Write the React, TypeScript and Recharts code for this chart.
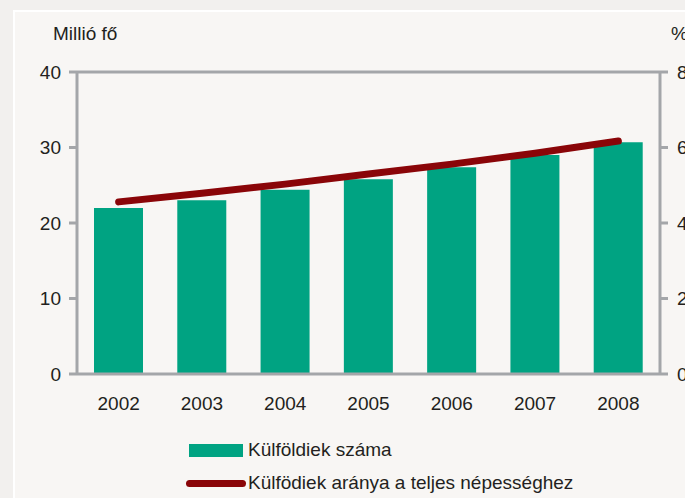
import React from 'react';
import {
  ComposedChart,
  Bar,
  Line,
  XAxis,
  YAxis,
  CartesianGrid,
  ReferenceLine,
} from 'recharts';

const years = ['2002', '2003', '2004', '2005', '2006', '2007', '2008'];
// millió fő
const foreigners = [22.0, 23.0, 24.4, 25.8, 27.4, 29.0, 30.7];
// % of total population
const share = [4.56, 4.79, 5.03, 5.3, 5.56, 5.85, 6.17];
const leftTicks = [0, 10, 20, 30, 40];
const rightTicks = [0, 2, 4, 6, 8];

const barName = 'Külföldiek száma';
const lineName = 'Külfödiek aránya a teljes népességhez';

const data = years.map((year, i) => ({ year, count: foreigners[i], share: share[i] }));

const FONT = '"Liberation Sans Narrow", "Arial Narrow", "Liberation Sans", Arial, sans-serif';
const TEXT = '#231f20';
const AXIS = '#a4a6a9';
const GRID = '#cbcbcb';
const GREEN = '#00a382';
const RED = '#8a0508';

function LegendBox() {
  return (
    <div style={{ position: 'absolute', left: 186, top: 436, fontFamily: FONT, fontSize: 19, color: TEXT }}>
      <div style={{ display: 'flex', alignItems: 'center', height: 28 }}>
        <span style={{ display: 'inline-block', width: 54, height: 13, background: GREEN, marginLeft: 3, marginRight: 5 }} />
        {barName}
      </div>
      <div style={{ display: 'flex', alignItems: 'center', height: 30, marginTop: 4 }}>
        <span style={{ display: 'inline-block', width: 60, height: 7, borderRadius: 4, background: RED, marginRight: 2 }} />
        {lineName}
      </div>
    </div>
  );
}

export default function App() {
  return (
    <div style={{ position: 'fixed', left: 0, top: 0, width: 685, height: 498, background: '#f2f0ee', overflow: 'hidden' }}>
      <div
        style={{
          position: 'absolute',
          left: 13,
          top: 10,
          right: 0,
          bottom: 0,
          background: '#f8f6f4',
          borderTop: '2px solid #ffffff',
          borderLeft: '2px solid #ffffff',
        }}
      />
      <div style={{ position: 'absolute', left: 53, top: 23, fontFamily: FONT, fontSize: 19, color: TEXT }}>Millió fő</div>
      <div style={{ position: 'absolute', left: 671, top: 23, fontFamily: FONT, fontSize: 19, color: TEXT }}>%</div>
      <div style={{ position: 'absolute', left: 0, top: 0 }}>
        <ComposedChart width={685} height={498} data={data} margin={{ top: 72, right: 0, bottom: 0, left: 37 }}>
          <CartesianGrid horizontal vertical={false} stroke={GRID} strokeWidth={2} />
          <XAxis
            dataKey="year"
            height={124}
            axisLine={{ stroke: AXIS, strokeWidth: 3 }}
            tickLine={false}
            tickSize={0}
            tickMargin={23}
            tick={{ fill: TEXT, fontSize: 19, fontFamily: FONT }}
          />
          <YAxis
            yAxisId="left"
            width={40}
            domain={[0, 40]}
            ticks={leftTicks}
            axisLine={{ stroke: AXIS, strokeWidth: 3 }}
            tickLine={{ stroke: AXIS, strokeWidth: 3 }}
            tickSize={8}
            tickMargin={8}
            tick={{ fill: TEXT, fontSize: 19, fontFamily: FONT }}
          />
          <YAxis
            yAxisId="right"
            orientation="right"
            width={25}
            domain={[0, 8]}
            ticks={rightTicks}
            axisLine={{ stroke: AXIS, strokeWidth: 3 }}
            tickLine={{ stroke: AXIS, strokeWidth: 3 }}
            tickSize={8}
            tickMargin={9}
            tick={{ fill: TEXT, fontSize: 19, fontFamily: FONT }}
          />
          <ReferenceLine yAxisId="left" y={40} stroke={AXIS} strokeWidth={3} />
          <Bar
            yAxisId="left"
            dataKey="count"
            name={barName}
            fill={GREEN}
            barSize={49}
            isAnimationActive={false}
          />
          <Line
            yAxisId="right"
            dataKey="share"
            name={lineName}
            stroke={RED}
            strokeWidth={7}
            strokeLinecap="round"
            dot={false}
            activeDot={false}
            type="linear"
            isAnimationActive={false}
          />
        </ComposedChart>
      </div>
      <LegendBox />
    </div>
  );
}
